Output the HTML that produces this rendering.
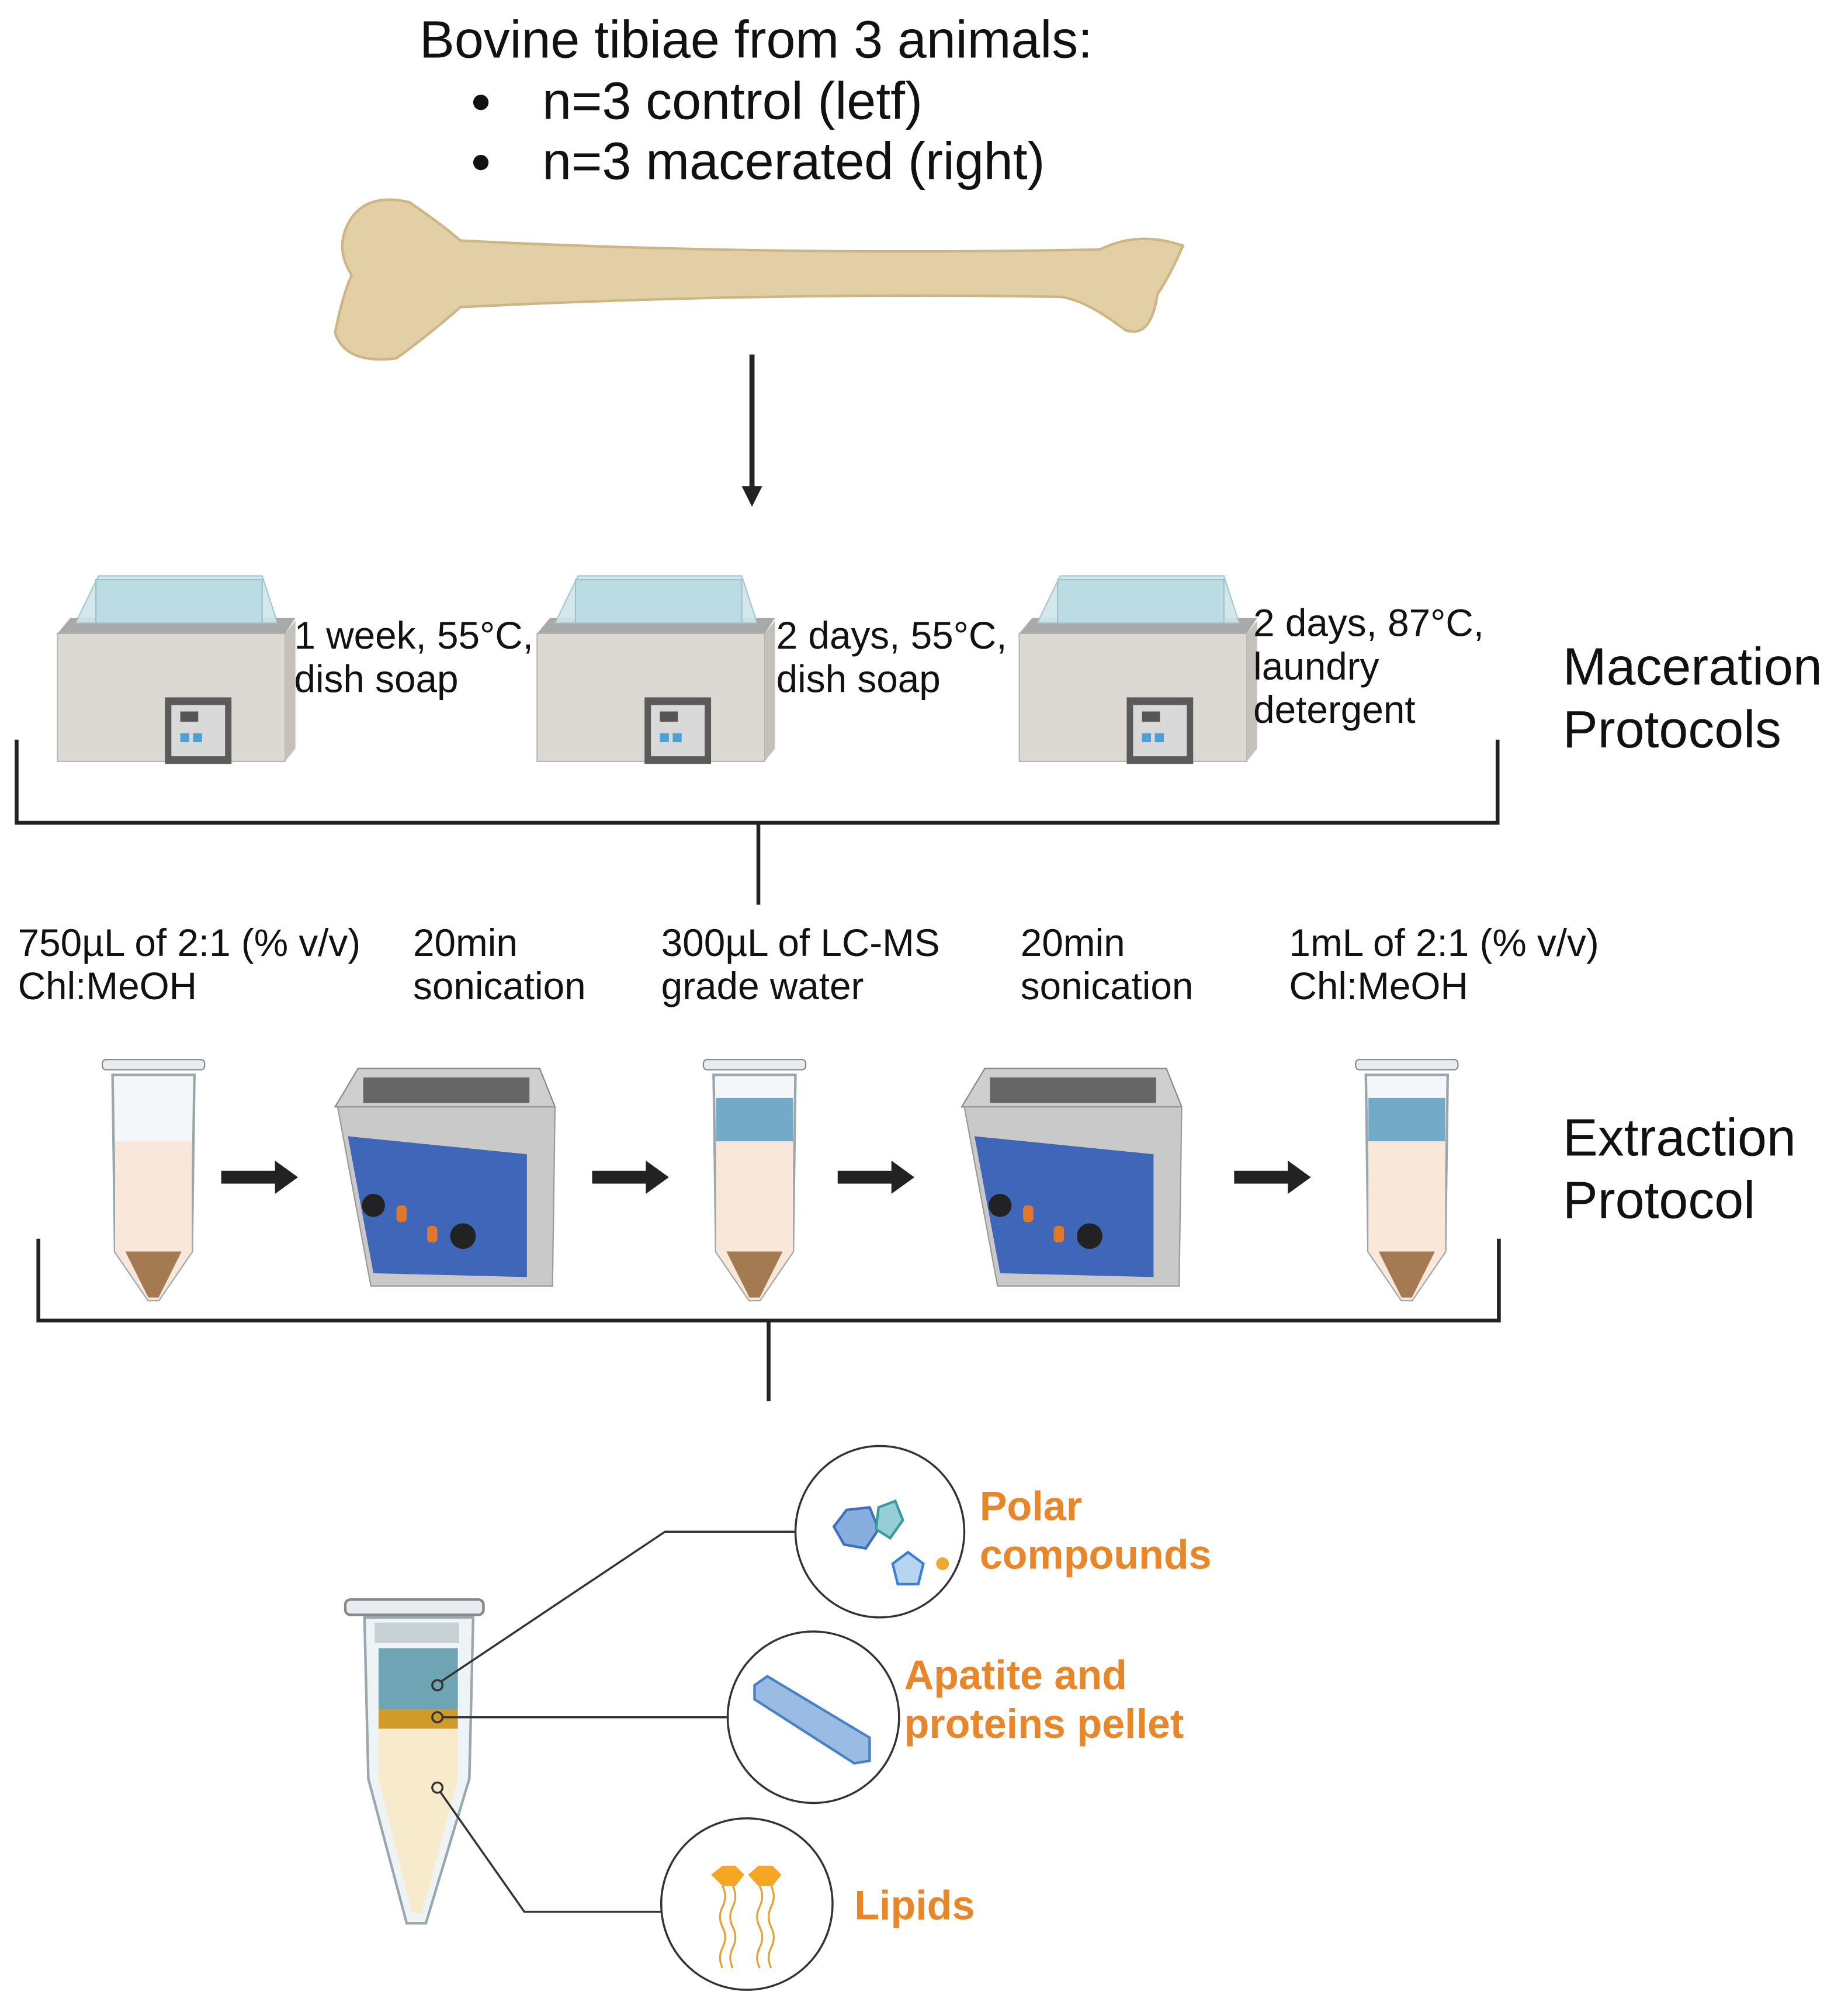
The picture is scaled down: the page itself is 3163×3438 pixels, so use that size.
<!DOCTYPE html>
<html><head><meta charset="utf-8">
<style>
html,body{margin:0;padding:0;background:#fff;}
svg{display:block;}
text{font-family:"Liberation Sans",sans-serif;}
</style></head><body>
<svg width="3163" height="3438" viewBox="0 0 1445 1570" preserveAspectRatio="none" xmlns="http://www.w3.org/2000/svg">
<defs>
<g id="bath">
  <rect x="0" y="50" width="178" height="100" fill="#dcd8d4" stroke="#b9b5b0"/>
  <polygon points="178,50 186,40 186,140 178,150" fill="#c4c0bb"/>
  <polygon points="0,50 10,38 186,38 178,50" fill="#a9a9a9"/>
  <polygon points="14,42 32,5 160,5 172,42" fill="#cfe6ec" stroke="#9fbfc9" opacity="0.9"/>
  <rect x="30" y="8" width="130" height="34" fill="#bcdce4" stroke="#9fbfc9"/>
  <rect x="84" y="100" width="52" height="52" fill="#5a5a5a"/>
  <rect x="89" y="106" width="42" height="40" fill="#d9d9d9"/>
  <rect x="96" y="111" width="14" height="8" fill="#555"/>
  <rect x="96" y="128" width="7" height="7" fill="#4aa0d8"/><rect x="106" y="128" width="7" height="7" fill="#4aa0d8"/>
</g>
<g id="sonic">
  <polygon points="0,35 18,5 160,5 172,35" fill="#cfcfcf" stroke="#888"/>
  <rect x="22" y="12" width="130" height="20" fill="#666"/>
  <polygon points="2,35 172,35 170,175 28,175" fill="#c9c9c9" stroke="#999"/>
  <polygon points="10,58 150,72 150,168 30,165" fill="#3f66b8"/>
  <circle cx="30" cy="112" r="9" fill="#222"/>
  <rect x="48" y="112" width="8" height="13" rx="3" fill="#e0772b"/>
  <rect x="72" y="128" width="8" height="13" rx="3" fill="#e0772b"/>
  <circle cx="100" cy="136" r="10" fill="#222"/>
</g>
<g id="tube">
  <rect x="-40" y="0" width="80" height="8" rx="3" fill="#e6ecef" stroke="#888"/>
  <path d="M-32,12 L32,12 L30,150 L4,188 L-4,188 L-30,150 Z" fill="#f3f7f9" stroke="#9aa7ad" stroke-width="2"/>
</g>
</defs>

<text x="328" y="45" font-size="41" fill="#111">Bovine tibiae from 3 animals:</text>
<circle cx="376" cy="80" r="6" fill="#111"/><circle cx="376" cy="127" r="6" fill="#111"/>
<text x="424" y="93" font-size="41" fill="#111">n=3 control (letf)</text>
<text x="424" y="140" font-size="41" fill="#111">n=3 macerated (right)</text>

<path d="M272,175 Q285,150 320,158 Q345,175 360,188 Q600,200 860,195 Q890,180 925,192 Q915,215 905,230 Q900,265 880,258 Q850,235 830,232 Q600,228 360,240 Q335,262 310,280 Q270,285 262,260 Q268,230 275,215 Q262,195 272,175 Z" fill="#e3cfa5" stroke="#cdb586" stroke-width="2"/>

<line x1="588" y1="277" x2="588" y2="382" stroke="#222" stroke-width="4"/>
<polygon points="580,380 596,380 588,396" fill="#222"/>

<use href="#bath" x="45" y="445"/><use href="#bath" x="420" y="445"/><use href="#bath" x="797" y="445"/>
<g font-size="30" fill="#111">
<text x="230" y="507">1 week, 55°C,</text><text x="230" y="541">dish soap</text>
<text x="607" y="507">2 days, 55°C,</text><text x="607" y="541">dish soap</text>
<text x="980" y="497">2 days, 87°C,</text><text x="980" y="531">laundry</text><text x="980" y="565">detergent</text>
</g>
<text x="1222" y="535" font-size="41" fill="#111">Maceration</text>
<text x="1222" y="584" font-size="41" fill="#111">Protocols</text>

<path d="M13,578 V643 H1171 V578 M593,643 V707" fill="none" stroke="#222" stroke-width="3"/>

<g font-size="30" fill="#111">
<text x="14" y="747">750µL of 2:1 (% v/v)</text><text x="14" y="781">Chl:MeOH</text>
<text x="323" y="747">20min</text><text x="323" y="781">sonication</text>
<text x="517" y="747">300µL of LC-MS</text><text x="517" y="781">grade water</text>
<text x="798" y="747">20min</text><text x="798" y="781">sonication</text>
<text x="1008" y="747">1mL of 2:1 (% v/v)</text><text x="1008" y="781">Chl:MeOH</text>
</g>

<g transform="translate(120,828)"><use href="#tube"/>
<path d="M-30,64 L30,64 L30,150 L4,188 L-4,188 L-30,150 Z" fill="#f9e8da"/>
<path d="M-22,150 L22,150 L4,186 L-4,186 Z" fill="#a47a52"/></g>
<g transform="translate(590,828)"><use href="#tube"/>
<rect x="-30" y="30" width="60" height="34" fill="#73aac8"/>
<path d="M-30,64 L30,64 L30,150 L4,188 L-4,188 L-30,150 Z" fill="#f9e8da"/>
<path d="M-22,150 L22,150 L4,186 L-4,186 Z" fill="#a47a52"/></g>
<g transform="translate(1100,828)"><use href="#tube"/>
<rect x="-30" y="30" width="60" height="34" fill="#73aac8"/>
<path d="M-30,64 L30,64 L30,150 L4,188 L-4,188 L-30,150 Z" fill="#f9e8da"/>
<path d="M-22,150 L22,150 L4,186 L-4,186 Z" fill="#a47a52"/></g>
<use href="#sonic" x="262" y="830"/><use href="#sonic" x="752" y="830"/>

<g fill="#222">
<rect x="173" y="915" width="44" height="10"/><polygon points="215,907 233,920 215,933"/>
<rect x="463" y="915" width="44" height="10"/><polygon points="505,907 523,920 505,933"/>
<rect x="655" y="915" width="44" height="10"/><polygon points="697,907 715,920 697,933"/>
<rect x="965" y="915" width="44" height="10"/><polygon points="1007,907 1025,920 1007,933"/>
</g>
<text x="1222" y="903" font-size="41" fill="#111">Extraction</text>
<text x="1222" y="952" font-size="41" fill="#111">Protocol</text>

<path d="M30,968 V1032 H1172 V968 M601,1032 V1095" fill="none" stroke="#222" stroke-width="3"/>

<g>
<rect x="270" y="1250" width="108" height="12" rx="4" fill="#e6ecef" stroke="#888" stroke-width="2"/>
<path d="M285,1264 L370,1264 L367,1390 L333,1503 L318,1503 L288,1390 Z" fill="#eef3f5" stroke="#9aa7ad" stroke-width="2"/>
<rect x="293" y="1268" width="66" height="16" fill="#c7d0d4"/>
<rect x="296" y="1288" width="62" height="48" fill="#6fa4b5"/>
<rect x="296" y="1336" width="62" height="15" fill="#d19b2c"/>
<path d="M296,1351 L358,1351 L358,1390 L330,1495 L322,1495 L296,1390 Z" fill="#f8ebcc"/>
</g>
<g fill="none" stroke="#333" stroke-width="1.6">
<circle cx="342" cy="1317" r="4"/><circle cx="342" cy="1342" r="4"/><circle cx="342" cy="1397" r="4"/>
<path d="M345,1314 L520,1197 H622"/><path d="M346,1342 H570"/><path d="M344,1400 L410,1494 H518"/>
<ellipse cx="688" cy="1197" rx="66" ry="67"/>
<ellipse cx="636" cy="1342" rx="67" ry="67"/>
<ellipse cx="584" cy="1488" rx="67" ry="67"/>
</g>
<polygon points="662,1180 680,1178 687,1195 677,1210 660,1207 652,1193" fill="#88aee0" stroke="#3f6fb8" stroke-width="2"/>
<polygon points="687,1178 700,1173 706,1188 696,1202 685,1195" fill="#93cfd4" stroke="#3a9a9e" stroke-width="2"/>
<polygon points="710,1213 722,1222 718,1238 702,1238 698,1222" fill="#b5d5f0" stroke="#3a80d0" stroke-width="2"/>
<circle cx="737" cy="1222" r="5" fill="#f0a830"/>
<polygon points="590,1317 600,1310 680,1358 680,1376 668,1378 590,1328" fill="#9bbce2" stroke="#4a80c8" stroke-width="2"/>
<polygon points="556,1465 565,1458 575,1458 582,1465 575,1474 565,1474" fill="#f5a623"/>
<polygon points="585,1465 593,1458 604,1458 611,1465 604,1474 593,1474" fill="#f5a623"/>
<g stroke="#e8a030" stroke-width="1.5" fill="none">
<path d="M565,1474 q4,8 0,16 q-4,8 0,16 q4,8 0,16 q-4,8 0,16"/>
<path d="M573,1474 q4,8 0,16 q-4,8 0,16 q4,8 0,16 q-4,8 0,16"/>
<path d="M594,1474 q4,8 0,16 q-4,8 0,16 q4,8 0,16 q-4,8 0,16"/>
<path d="M603,1474 q4,8 0,16 q-4,8 0,16 q4,8 0,16 q-4,8 0,16"/>
</g>
<g font-size="32" font-weight="bold" fill="#e8862a">
<text x="766" y="1188">Polar</text><text x="766" y="1226">compounds</text>
<text x="707" y="1320">Apatite and</text><text x="707" y="1358">proteins pellet</text>
<text x="668" y="1500">Lipids</text>
</g>
</svg>
</body></html>
